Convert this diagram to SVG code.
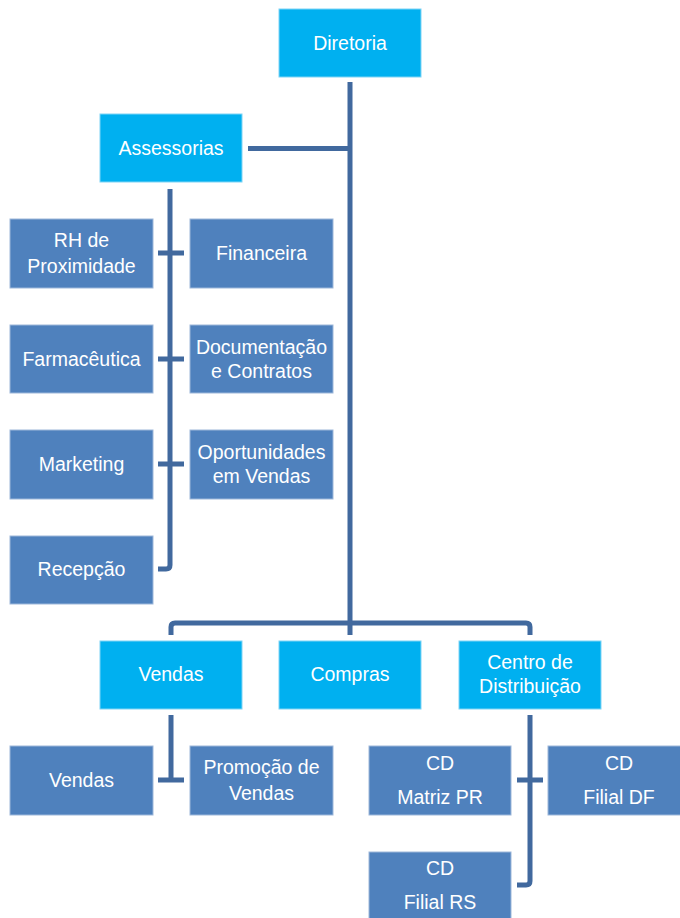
<svg xmlns="http://www.w3.org/2000/svg" width="680" height="918" viewBox="0 0 680 918">
<style>
.top{fill:#00B0F0;stroke:#7FD4F5;stroke-width:1}
.sub{fill:#4F81BD;stroke:#9DB7DA;stroke-width:1}
text{font-family:"Liberation Sans",Arial,sans-serif;font-size:19.5px;fill:#FFFFFF;text-anchor:middle}
.ln{fill:none;stroke:#41699E;stroke-width:5;stroke-linejoin:round}
</style>
<rect width="680" height="918" fill="#FFFFFF"/>
<g id="connectors">
<path class="ln" d="M350,82 V635"/>
<path class="ln" d="M248,148.5 H350"/>
<path class="ln" d="M170,189 V565 Q170,569 166,569 H158"/>
<path class="ln" d="M158,253 H184 M158,359 H184 M158,464 H184"/>
<path class="ln" d="M171,635 V627 Q171,623 175,623 H526 Q530,623 530,627 V635"/>
<path class="ln" d="M171,715 V780 M158,780 H184"/>
<path class="ln" d="M530,715 V881 Q530,885 526,885 H517 M517,780 H543"/>
</g>
<g id="diretoria"><rect class="top" x="279" y="9" width="142" height="68"/><text x="350" y="50">Diretoria</text></g>
<g id="assessorias"><rect class="top" x="100" y="114" width="142" height="68"/><text x="171" y="155">Assessorias</text></g>
<g id="rh"><rect class="sub" x="10" y="219" width="143" height="69"/><text x="81.5" y="247">RH de</text><text x="81.5" y="273">Proximidade</text></g>
<g id="financeira"><rect class="sub" x="190" y="219" width="143" height="69"/><text x="261.5" y="260">Financeira</text></g>
<g id="farmaceutica"><rect class="sub" x="10" y="325" width="143" height="68"/><text x="81.5" y="366">Farmacêutica</text></g>
<g id="documentacao"><rect class="sub" x="190" y="325" width="143" height="68"/><text x="261.5" y="354">Documentação</text><text x="261.5" y="378">e Contratos</text></g>
<g id="marketing"><rect class="sub" x="10" y="430" width="143" height="69"/><text x="81.5" y="471">Marketing</text></g>
<g id="oportunidades"><rect class="sub" x="190" y="430" width="143" height="69"/><text x="261.5" y="459">Oportunidades</text><text x="261.5" y="483">em Vendas</text></g>
<g id="recepcao"><rect class="sub" x="10" y="536" width="143" height="68"/><text x="81.5" y="576">Recepção</text></g>
<g id="vendas-top"><rect class="top" x="100" y="641" width="142" height="68"/><text x="171" y="681">Vendas</text></g>
<g id="compras"><rect class="top" x="279" y="641" width="142" height="68"/><text x="350" y="681">Compras</text></g>
<g id="centro"><rect class="top" x="459" y="641" width="142" height="68"/><text x="530" y="669">Centro de</text><text x="530" y="693">Distribuição</text></g>
<g id="vendas-sub"><rect class="sub" x="10" y="746" width="143" height="69"/><text x="81.5" y="787">Vendas</text></g>
<g id="promocao"><rect class="sub" x="190" y="746" width="143" height="69"/><text x="261.5" y="774">Promoção de</text><text x="261.5" y="800">Vendas</text></g>
<g id="cd-matriz"><rect class="sub" x="369" y="746" width="142" height="69"/><text x="440" y="770">CD</text><text x="440" y="804">Matriz PR</text></g>
<g id="cd-df"><rect class="sub" x="548" y="746" width="143" height="69"/><text x="619" y="770">CD</text><text x="619" y="804">Filial DF</text></g>
<g id="cd-rs"><rect class="sub" x="369" y="852" width="142" height="70"/><text x="440" y="875">CD</text><text x="440" y="909">Filial RS</text></g>
</svg>
